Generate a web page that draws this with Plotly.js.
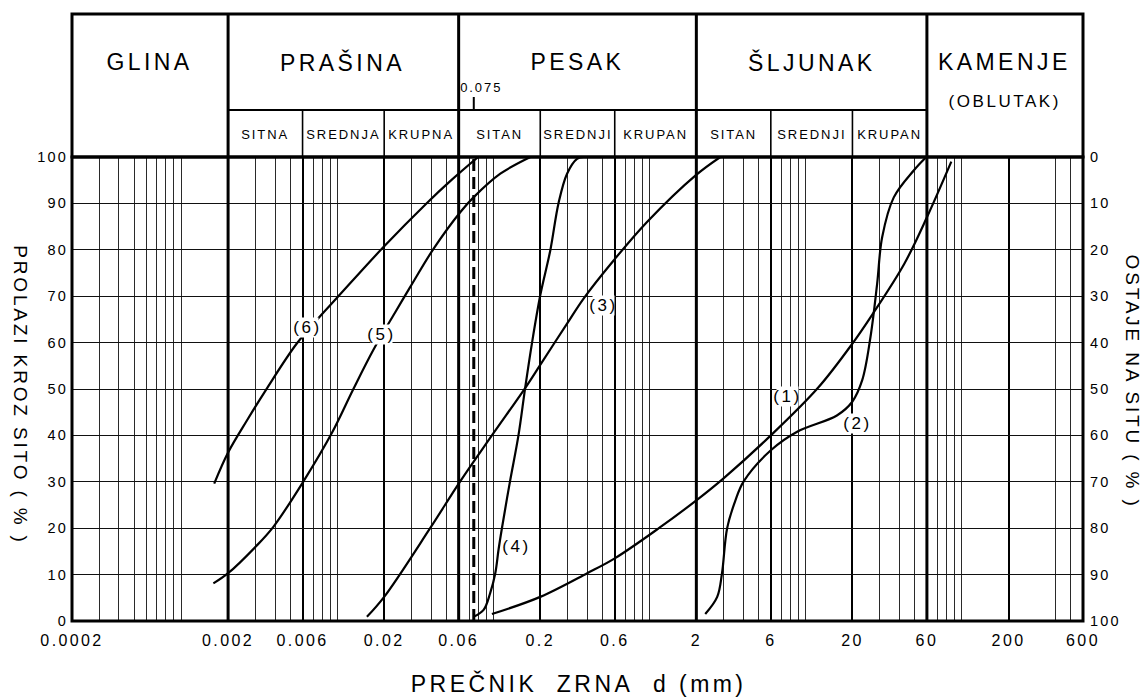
<!DOCTYPE html>
<html>
<head>
<meta charset="utf-8">
<script src="https://cdn.plot.ly/plotly-3.0.1.min.js"></script>
<style>
html,body{margin:0;padding:0;background:#fff;}
#chart{width:1146px;height:698px;}
.main-svg text{letter-spacing:0.15em;}
</style>
</head>
<body>
<div id="chart"></div>
<script>
// ---- data (grain diameter d in mm, percent passing) ----
const curve1D = [0.098, 0.2, 0.4, 0.6, 1.15, 2.0, 3.0, 6.0, 12, 20, 27, 43, 60, 86];
const curve1P = [1.5, 5.2, 10.3, 13.5, 20, 26, 30.8, 40, 50.2, 59.8, 66.2, 77, 87, 99];

const curve2D = [2.28, 2.72, 2.92, 3.15, 3.56, 4.02, 6.0, 8.85, 15.9, 19.9, 23.1, 26.1, 28.8, 31.0, 36.8, 49.4, 59.5];
const curve2P = [1.5, 5.2, 10.3, 20, 26, 30.1, 36.8, 40.8, 44.3, 47.2, 51.9, 61.2, 72.7, 82.7, 91.3, 97.1, 100];

const curve3D = [0.0155, 0.02, 0.0394, 0.0614, 0.098, 0.16, 0.2, 0.297, 0.379, 0.59, 0.966, 1.97, 2.85];
const curve3P = [0.9, 5.2, 20, 30.1, 40, 50.2, 55.2, 64.1, 69.5, 77.7, 86, 96, 100];

const curve4D = [0.0747, 0.0867, 0.0955, 0.103, 0.108, 0.1136, 0.128, 0.145, 0.16, 0.177, 0.2, 0.232, 0.262, 0.297, 0.344, 0.38];
const curve4P = [0.9, 2.4, 6, 10.3, 15.3, 20, 30.1, 40, 50.2, 59.9, 70.2, 79.9, 90.1, 96.4, 99.6, 100];

const curve5D = [0.00161, 0.002, 0.003, 0.0039, 0.00608, 0.00924, 0.0127, 0.0171, 0.0235, 0.0294, 0.0414, 0.0614, 0.0747, 0.111, 0.173];
const curve5P = [8.1, 10.3, 16, 20.3, 30.1, 40.5, 50, 58.5, 66.5, 72, 80.2, 88.1, 91.3, 96.4, 100];

const curve6D = [0.00163, 0.002, 0.00264, 0.00354, 0.00551, 0.00798, 0.00994, 0.0198, 0.0376, 0.0534, 0.08];
const curve6P = [29.6, 36.3, 43.2, 50.1, 59.8, 66.1, 69.6, 80.6, 90.1, 94.9, 100];

const curveLabels = ['(1)', '(2)', '(3)', '(4)', '(5)', '(6)'];
const labelD = [7.64, 21.4, 0.509, 0.140, 0.0193, 0.0065];
const labelP = [48.3, 42.6, 68, 16, 61.8, 63.3];

// axis ticks
const xTickVals = [0.0002, 0.002, 0.006, 0.02, 0.06, 0.2, 0.6, 2, 6, 20, 60, 200, 600];
const xTickText = ['0.0002', '0.002', '0.006', '0.02', '0.06', '0.2', '0.6', '2', '6', '20', '60', '200', '600'];
const yTickVals = [0, 10, 20, 30, 40, 50, 60, 70, 80, 90, 100];
const xMinorVals = [0.0003, 0.0004, 0.0005, 0.0006, 0.0007, 0.0008, 0.0009, 0.001,
  0.003, 0.004, 0.005, 0.007, 0.008, 0.009, 0.01,
  0.03, 0.04, 0.05, 0.07, 0.08, 0.09, 0.1,
  0.3, 0.4, 0.5, 0.7, 0.8, 0.9, 1,
  3, 4, 5, 7, 8, 9, 10,
  30, 40, 50, 70, 80, 90, 100,
  400, 500];

// classification header
const mainBounds = [0.0002, 0.002, 0.06, 2, 60, 600];
const mainNames = ['GLINA', 'PRAŠINA', 'PESAK', 'ŠLJUNAK', 'KAMENJE'];
const subBounds = [0.002, 0.006, 0.02, 0.06, 0.2, 0.6, 2, 6, 20, 60];
const subNames = ['SITNA', 'SREDNJA', 'KRUPNA', 'SITAN', 'SREDNJI', 'KRUPAN', 'SITAN', 'SREDNJI', 'KRUPAN'];
const boundary075 = 0.075;

// ---- layout geometry ----
const W = 1146, H = 698;
const plotTop = 157, plotBottom = 621, plotLeft = 72, plotRight = 1083;
const plotH = plotBottom - plotTop, plotW = plotRight - plotLeft;
const py = v => (plotBottom - v) / plotH;     // pixel row -> paper y
const pxp = v => (v - plotLeft) / plotW;      // pixel col -> paper x
const headerTop = py(14), headerMid = py(110);
const FONT = 'Liberation Sans, Arial, sans-serif';

const curvesD = [curve1D, curve2D, curve3D, curve4D, curve5D, curve6D];
const curvesP = [curve1P, curve2P, curve3P, curve4P, curve5P, curve6P];
const traces = curvesD.map((d, i) => ({
  type: 'scatter', mode: 'lines', x: d, y: curvesP[i],
  line: {color: '#000', width: 2.2, shape: 'spline', smoothing: 1},
  hoverinfo: 'skip', showlegend: false
}));
// right-hand axis (retained on sieve = 100 - passing)
traces.push({
  type: 'scatter', mode: 'none', x: curve1D, y: curve1P.map(p => 100 - p),
  yaxis: 'y2', hoverinfo: 'skip', showlegend: false
});

const shapes = [];
shapes.push({type: 'rect', xref: 'paper', yref: 'paper', x0: 0, x1: 1, y0: 0, y1: 1, line: {color: '#000', width: 3}});
shapes.push({type: 'rect', xref: 'paper', yref: 'paper', x0: 0, x1: 1, y0: 1, y1: headerTop, line: {color: '#000', width: 3}});
shapes.push({type: 'line', xref: 'x', yref: 'paper', x0: mainBounds[1], x1: mainBounds[4], y0: headerMid, y1: headerMid, line: {color: '#000', width: 2}});
mainBounds.slice(1, -1).forEach(b => shapes.push({type: 'line', xref: 'x', yref: 'paper', x0: b, x1: b, y0: 0, y1: headerTop, line: {color: '#000', width: 3}}));
subBounds.filter(b => mainBounds.indexOf(b) < 0).forEach(b => shapes.push({type: 'line', xref: 'x', yref: 'paper', x0: b, x1: b, y0: 1, y1: headerMid, line: {color: '#000', width: 1.6}}));
shapes.push({type: 'line', xref: 'x', yref: 'paper', x0: boundary075, x1: boundary075, y0: headerMid, y1: headerMid + 13 / plotH, line: {color: '#000', width: 2}});
shapes.push({type: 'line', xref: 'x', yref: 'paper', x0: boundary075, x1: boundary075, y0: 0, y1: 1, line: {color: '#000', width: 3, dash: '12px,6px'}});

const annotations = [];
const lm = (a, b) => (Math.log10(a) + Math.log10(b)) / 2;
mainNames.forEach((n, i) => annotations.push({
  xref: 'x', yref: 'paper', x: lm(mainBounds[i], mainBounds[i + 1]), y: py(62),
  text: n, showarrow: false, xanchor: 'center', yanchor: 'middle',
  font: {family: FONT, size: 23, color: '#000'}
}));
annotations.push({
  xref: 'x', yref: 'paper', x: lm(mainBounds[4], mainBounds[5]), y: py(101),
  text: '(OBLUTAK)', showarrow: false, xanchor: 'center', yanchor: 'middle',
  font: {family: FONT, size: 17, color: '#000'}
});
subNames.forEach((n, i) => annotations.push({
  xref: 'x', yref: 'paper', x: lm(subBounds[i], subBounds[i + 1]), y: py(134),
  text: n, showarrow: false, xanchor: 'center', yanchor: 'middle',
  font: {family: FONT, size: 13, color: '#000'}
}));
annotations.push({
  xref: 'x', yref: 'paper', x: Math.log10(boundary075), y: py(88), xshift: -11,
  text: '0.075', showarrow: false, xanchor: 'left', yanchor: 'middle',
  font: {family: FONT, size: 13, color: '#000'}
});
curveLabels.forEach((t, i) => annotations.push({
  xref: 'x', yref: 'y', x: Math.log10(labelD[i]), y: labelP[i],
  text: t, showarrow: false, xanchor: 'center', yanchor: 'middle',
  bgcolor: '#fff', borderpad: 0,
  font: {family: FONT, size: 17, color: '#000'}
}));
annotations.push({
  xref: 'paper', yref: 'paper', x: 0.5005, y: py(683),
  text: 'PREČNIK\u00a0\u00a0ZRNA\u00a0\u00a0d (mm)', showarrow: false, xanchor: 'center', yanchor: 'middle',
  font: {family: FONT, size: 23, color: '#000'}
});
annotations.push({
  xref: 'paper', yref: 'paper', x: pxp(21), y: py(395), textangle: 90,
  text: 'PROLAZI KROZ SITO ( % )', showarrow: false, xanchor: 'center', yanchor: 'middle',
  font: {family: FONT, size: 19, color: '#000'}
});
annotations.push({
  xref: 'paper', yref: 'paper', x: pxp(1133), y: py(381), textangle: 90,
  text: 'OSTAJE NA SITU ( % )', showarrow: false, xanchor: 'center', yanchor: 'middle',
  font: {family: FONT, size: 19, color: '#000'}
});

const layout = {
  width: W, height: H,
  margin: {l: plotLeft, r: W - plotRight, t: plotTop, b: H - plotBottom, pad: 0},
  paper_bgcolor: '#fff', plot_bgcolor: '#fff',
  showlegend: false,
  font: {family: FONT, color: '#000'},
  xaxis: {
    type: 'log', range: [Math.log10(0.0002), Math.log10(600)],
    tickmode: 'array', tickvals: xTickVals, ticktext: xTickText,
    showgrid: true, gridcolor: '#000', gridwidth: 2,
    zeroline: false, showline: false, ticks: '', ticklabelstandoff: 8,
    tickfont: {family: FONT, size: 16, color: '#000'},
    minor: {tickmode: 'array', tickvals: xMinorVals, showgrid: true, gridcolor: '#2a2a2a', gridwidth: 1, ticks: ''},
    fixedrange: true
  },
  yaxis: {
    range: [0, 100], tickmode: 'array', tickvals: yTickVals,
    showgrid: true, gridcolor: '#111', gridwidth: 1,
    zeroline: false, showline: false, ticks: '', ticklabelstandoff: 3,
    tickfont: {family: FONT, size: 14.5, color: '#000'},
    fixedrange: true
  },
  yaxis2: {
    overlaying: 'y', side: 'right', range: [100, 0], tickmode: 'array', tickvals: yTickVals,
    showgrid: false, zeroline: false, showline: false, ticks: '', ticklabelstandoff: 6,
    tickfont: {family: FONT, size: 14.5, color: '#000'},
    fixedrange: true
  },
  shapes: shapes,
  annotations: annotations
};

Plotly.newPlot('chart', traces, layout, {staticPlot: true, displayModeBar: false});
</script>
</body>
</html>
